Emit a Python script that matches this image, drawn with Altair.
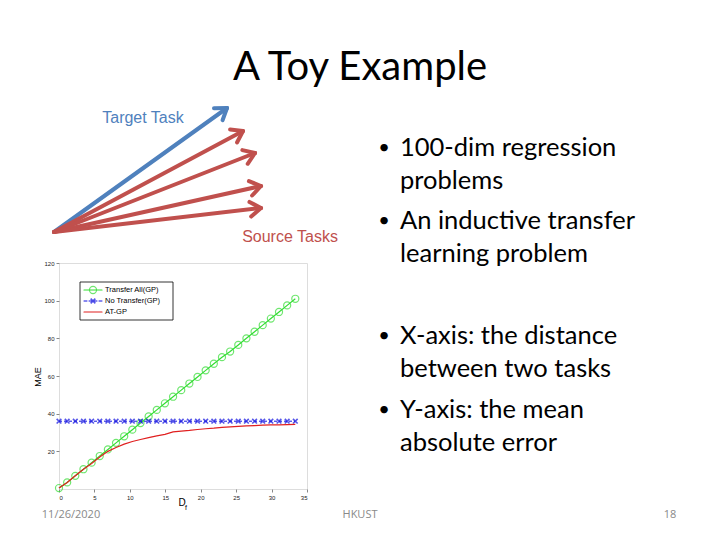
import math
import altair as alt
import pandas as pd

# ---------------- data ----------------
df_x = [0, 1.15, 2.3, 3.45, 4.6, 5.75, 6.9, 8.05, 9.2, 10.35, 11.5, 12.65, 13.8, 14.95, 16.1,
        17.25, 18.4, 19.55, 20.7, 21.85, 23.0, 24.15, 25.3, 26.45, 27.6, 28.75, 29.9, 31.05, 32.2, 33.35]
transfer_all = [0.5, 3.5, 7, 10.5, 14, 17.5, 21, 24.5, 28, 31.5, 35, 38.5, 42, 45.5, 49,
                52.5, 56, 59.5, 63, 66.5, 70, 73, 76.5, 80, 83.5, 87, 90.5, 94, 97.5, 101]
no_transfer = [36] * 30
at_gp = [0.5, 3.5, 7, 10.5, 13.5, 17, 20, 22, 23.8, 25.2, 26.3, 27.3, 28.2, 29, 30.3,
         30.7, 31.1, 31.6, 32, 32.3, 32.7, 33, 33.3, 33.5, 33.7, 33.9, 34, 34.1, 34.2, 34.3]
series_names = ["Transfer All(GP)", "No Transfer(GP)", "AT-GP"]
x_ticks = [0, 5, 10, 15, 20, 25, 30, 35]
y_ticks = [20, 40, 60, 80, 100, 120]

title_text = "A Toy Example"
bullets_top = [("100-dim regression", "problems"), ("An inductive transfer", "learning problem")]
bullets_bottom = [("X-axis: the distance", "between two tasks"), ("Y-axis: the mean", "absolute error")]
footer_left, footer_mid, footer_right = "11/26/2020", "HKUST", "18"

rows = []
for name, vals in zip(series_names, [transfer_all, no_transfer, at_gp]):
    for xv, yv in zip(df_x, vals):
        rows.append({"Df": xv, "MAE": yv, "series": name})
data = pd.DataFrame(rows)

# ---------------- geometry helpers (page px -> view px) ----------------
VX, VY, VW, VH = 59, 263, 248, 226


def px(x):
    return x - VX


def py(y):
    return y - VY


dummy = pd.DataFrame({"a": [0]})
layers = []


def text(s, x, y, size, color="black", font="Lato", align="left", angle=0, weight="normal"):
    kw = dict(text=s, fontSize=size, color=color, font=font, align=align, baseline="middle",
              fontWeight=weight)
    if angle:
        kw["angle"] = angle
    return alt.Chart(dummy).mark_text(**kw).encode(x=alt.value(px(x)), y=alt.value(py(y)))


def seg(x0, y0, x1, y1, color, width, dash=None):
    kw = dict(color=color, strokeWidth=width, strokeCap="round")
    if dash:
        kw["strokeDash"] = dash
    return alt.Chart(dummy).mark_rule(**kw).encode(
        x=alt.value(px(x0)), y=alt.value(py(y0)), x2=alt.value(px(x1)), y2=alt.value(py(y1)))


def arrow(x0, y0, x1, y1, color):
    out = [seg(x0, y0, x1, y1, color, 4)]
    ang = math.atan2(y1 - y0, x1 - x0)
    for s in (1, -1):
        a = ang + math.pi + s * 0.6
        out.append(seg(x1, y1, x1 + 13 * math.cos(a), y1 + 13 * math.sin(a), color, 4))
    return out


RED = "#C0504D"
BLUE = "#4F81BD"

# title
layers.append(text(title_text, 360, 68, 40, align="center"))

# arrows
ox, oy = 54, 232
layers += arrow(ox, oy, 227, 108, BLUE)
for tx, ty in [(243, 131), (255, 153), (261, 186), (261, 208)]:
    layers += arrow(ox, oy, tx, ty, RED)
layers.append(text("Target Task", 143, 118, 16, color=BLUE, font="Liberation Sans", align="center"))
layers.append(text("Source Tasks", 290, 237, 16, color=RED, font="Liberation Sans", align="center"))

# bullets
for (l1, l2), y in zip(bullets_top + bullets_bottom, [148, 221, 336, 410]):
    layers.append(text("\u2022", 384, y, 20, align="center"))
    layers.append(text(l1, 400, y, 25.5))
    layers.append(text(l2, 400, y + 33, 25.5))

# footer
layers.append(text(footer_left, 71, 515, 11, color="#898989", font="Open Sans", align="center"))
layers.append(text(footer_mid, 360, 515, 11, color="#898989", font="Open Sans", align="center"))
layers.append(text(footer_right, 670, 515, 11, color="#898989", font="Open Sans", align="center"))

# ---------------- chart ----------------
xs = alt.Scale(domain=[0, 35], nice=False)
ys = alt.Scale(domain=[0, 120], nice=False)
xenc = alt.X("Df:Q", scale=xs, axis=alt.Axis(values=x_ticks, title=None, grid=False, labelFontSize=6,
                                              labelFont="Liberation Sans", tickSize=3, domain=False,
                                              labelPadding=2, labelColor="#222"))
yenc = alt.Y("MAE:Q", scale=ys, axis=alt.Axis(values=y_ticks, title=None, grid=False, labelFontSize=6,
                                               labelFont="Liberation Sans", tickSize=3, domain=False,
                                               labelPadding=2, labelColor="#222"))

base = alt.Chart(data)
green = "#33DD33"
blue = "#1010E0"
red = "#E02020"

l_ta = base.transform_filter(alt.datum.series == series_names[0]).mark_line(
    color=green, strokeWidth=1.2).encode(x=xenc, y=yenc)
p_ta = base.transform_filter(alt.datum.series == series_names[0]).mark_point(
    color=green, shape="circle", size=50, filled=False, strokeWidth=1.2).encode(x=xenc, y=yenc)
l_nt = base.transform_filter(alt.datum.series == series_names[1]).mark_line(
    color=blue, strokeWidth=1, strokeDash=[3, 2]).encode(x=xenc, y=yenc)
p_nt = base.transform_filter(alt.datum.series == series_names[1]).mark_point(
    color=blue, shape="M-1,-1L1,1M-1,1L1,-1", size=22, filled=False, strokeWidth=1.6).encode(x=xenc, y=yenc)
l_at = base.transform_filter(alt.datum.series == series_names[2]).mark_line(
    color=red, strokeWidth=1.2).encode(x=xenc, y=yenc)

layers += [l_ta, p_ta, l_nt, p_nt, l_at]

# axis titles
layers.append(text("MAE", 38, 377, 9, font="Liberation Sans", align="center", angle=270))
layers.append(text("D", 182, 503, 10, font="Liberation Sans", align="center"))
layers.append(text("f", 186, 508, 7, font="Liberation Sans", align="center"))

# legend box
layers.append(alt.Chart(dummy).mark_rect(fill="white", stroke="black", strokeWidth=0.8).encode(
    x=alt.value(px(80)), x2=alt.value(px(173)), y=alt.value(py(282)), y2=alt.value(py(320))))
leg_rows = [290, 301, 312]
layers.append(seg(84, leg_rows[0], 102, leg_rows[0], green, 1.2))
layers.append(alt.Chart(dummy).mark_point(color=green, shape="circle", size=50, filled=False,
                                          strokeWidth=1.2).encode(x=alt.value(px(93)), y=alt.value(py(leg_rows[0]))))
layers.append(seg(84, leg_rows[1], 102, leg_rows[1], blue, 1, dash=[3, 2]))
layers.append(alt.Chart(dummy).mark_point(color=blue, shape="M-1,-1L1,1M-1,1L1,-1", size=22, filled=False,
                                          strokeWidth=1.6).encode(x=alt.value(px(93)), y=alt.value(py(leg_rows[1]))))
layers.append(seg(84, leg_rows[2], 102, leg_rows[2], red, 1.2))
for name, y in zip(series_names, leg_rows):
    layers.append(text(name, 105, y, 7.5, font="Liberation Sans"))

chart = alt.layer(*layers).properties(
    width=VW, height=VH,
    padding={"left": VX - 8, "top": VY - 8, "right": 704 - (VX - 8) - VW, "bottom": 524 - (VY - 8) - VH},
    autosize=alt.AutoSizeParams(type="none"),
).configure_view(stroke="black", strokeWidth=0.8).configure(background="white")

chart.save("out.html", embed_options={"renderer": "svg", "actions": False})
